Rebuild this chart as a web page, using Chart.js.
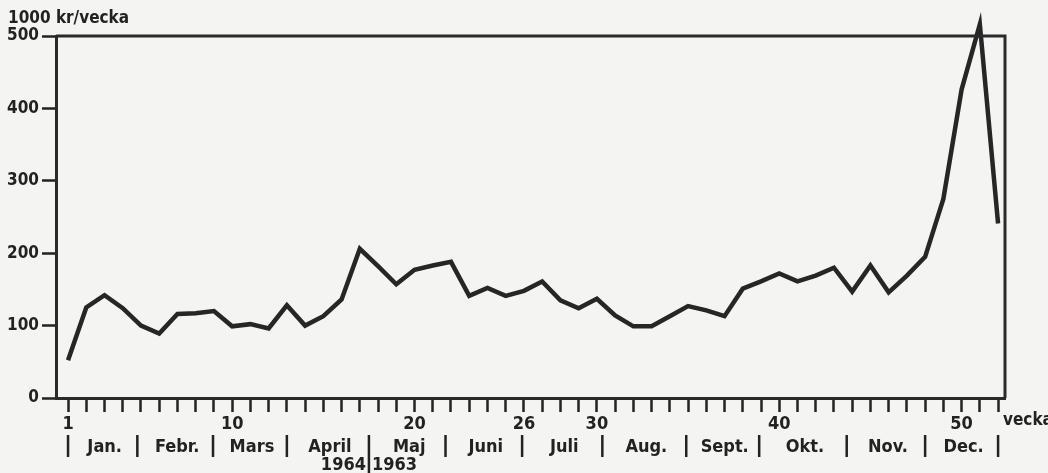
<!DOCTYPE html>
<html>
<head>
<meta charset="utf-8">
<script src="https://cdn.jsdelivr.net/npm/chart.js@4"></script>
<style>
  html, body { margin: 0; padding: 0; background: #f4f4f2; }
  #wrap { width: 1048px; height: 473px; position: relative; }
</style>
</head>
<body>
<div id="wrap"><canvas id="chart" width="1048" height="473"></canvas></div>
<script>
// veckor 1-52
var weeks = [];
for (var w = 1; w <= 52; w++) weeks.push(w);

// 1000 kr per vecka
var values = [52, 125, 142, 124, 100, 89, 116, 117, 120, 99,
              102, 96, 128, 100, 113, 136, 206, 182, 157, 177,
              183, 188, 141, 152, 141, 148, 161, 135, 124, 137,
              114, 99, 99, 113, 127, 121, 113, 151, 161, 172,
              161, 169, 180, 147, 183, 146, 169, 195, 275, 426,
              516, 241];

var yTicks = [0, 100, 200, 300, 400, 500];
var weekLabels = [1, 10, 20, 26, 30, 40, 50];

var months = ['Jan.', 'Febr.', 'Mars', 'April', 'Maj', 'Juni', 'Juli', 'Aug.', 'Sept.', 'Okt.', 'Nov.', 'Dec.'];
// månadsgränser i veckor
var monthBounds = [1, 4.8, 8.95, 13, 17.5, 21.7, 25.9, 30.3, 34.9, 38.9, 43.7, 48, 52];
var years = ['1964', '1963'];

var FONT = '"DejaVu Sans Condensed", "DejaVu Sans", sans-serif';
var INK = '#222';

// ram + månadsrad
var framePlugin = {
    id: 'frame',
    afterDraw: function (chart) {
        var ctx = chart.ctx;
        var x = chart.scales.x, y = chart.scales.y;
        var ca = chart.chartArea;
        var top = y.getPixelForValue(500);
        var bottom = y.getPixelForValue(0);

        ctx.save();
        ctx.strokeStyle = '#2a2a2a';
        ctx.lineWidth = 3;
        ctx.beginPath();
        ctx.moveTo(ca.left, top);
        ctx.lineTo(ca.right, top);
        ctx.lineTo(ca.right, bottom);
        ctx.stroke();

        // axeltitlar
        ctx.fillStyle = INK;
        ctx.font = 'bold 17px ' + FONT;
        ctx.textBaseline = 'middle';
        ctx.textAlign = 'left';
        ctx.fillText('1000 kr/vecka', 8, 19);
        ctx.fillText('vecka', 1003, 421);

        // månader
        var rowY = 447;
        ctx.lineWidth = 2.5;
        ctx.strokeStyle = INK;
        for (var i = 0; i < monthBounds.length; i++) {
            var px = x.getPixelForValue(monthBounds[i]);
            ctx.beginPath();
            ctx.moveTo(px, rowY - 12);
            ctx.lineTo(px, i === 4 ? 473 : rowY + 10);
            ctx.stroke();
        }
        ctx.textAlign = 'center';
        ctx.font = 'bold 18px ' + FONT;
        for (var m = 0; m < months.length; m++) {
            var cx = (x.getPixelForValue(monthBounds[m]) + x.getPixelForValue(monthBounds[m + 1])) / 2;
            ctx.fillText(months[m], cx + 2, rowY);
        }
        // år under april/maj
        var sep = x.getPixelForValue(monthBounds[4]);
        ctx.textAlign = 'right';
        ctx.fillText(years[0], sep - 3, 465);
        ctx.textAlign = 'left';
        ctx.fillText(years[1], sep + 3, 465);
        ctx.restore();
    }
};

var ctx = document.getElementById('chart').getContext('2d');
var chart = new Chart(ctx, {
    type: 'line',
    data: {
        labels: weeks,
        datasets: [{
            data: weeks.map(function (w, i) { return { x: w, y: values[i] }; }),
            borderColor: '#262626',
            borderWidth: 4.5,
            pointRadius: 0,
            tension: 0,
            clip: false,
            borderJoinStyle: 'miter'
        }]
    },
    options: {
        responsive: false,
        animation: false,
        layout: { padding: { top: 36, right: 43, left: 0, bottom: 0 } },
        plugins: {
            legend: { display: false },
            tooltip: { enabled: false }
        },
        scales: {
            x: {
                type: 'linear',
                min: 0.34,
                max: 52.38,
                afterFit: function (s) { s.height = 75; },
                border: { display: true, color: '#2a2a2a', width: 3 },
                grid: {
                    drawOnChartArea: false,
                    drawTicks: true,
                    tickLength: 14,
                    tickWidth: 2.5,
                    tickColor: INK
                },
                ticks: {
                    stepSize: 1,
                    autoSkip: false,
                    includeBounds: false,
                    maxRotation: 0,
                    padding: 2,
                    color: INK,
                    font: { family: FONT, size: 18, weight: 'bold' },
                    callback: function (v) {
                        return weekLabels.indexOf(v) >= 0 ? String(v) : '';
                    }
                }
            },
            y: {
                min: 0,
                max: 500,
                afterFit: function (s) { s.width = 56; },
                afterBuildTicks: function (s) {
                    s.ticks = yTicks.map(function (v) { return { value: v }; });
                },
                border: { display: true, color: '#2a2a2a', width: 3 },
                grid: {
                    drawOnChartArea: false,
                    tickLength: 14,
                    tickWidth: 2.5,
                    tickColor: INK
                },
                ticks: {
                    padding: 3,
                    color: INK,
                    font: { family: FONT, size: 17, weight: 'bold' }
                }
            }
        }
    },
    plugins: [framePlugin]
});
</script>
</body>
</html>
